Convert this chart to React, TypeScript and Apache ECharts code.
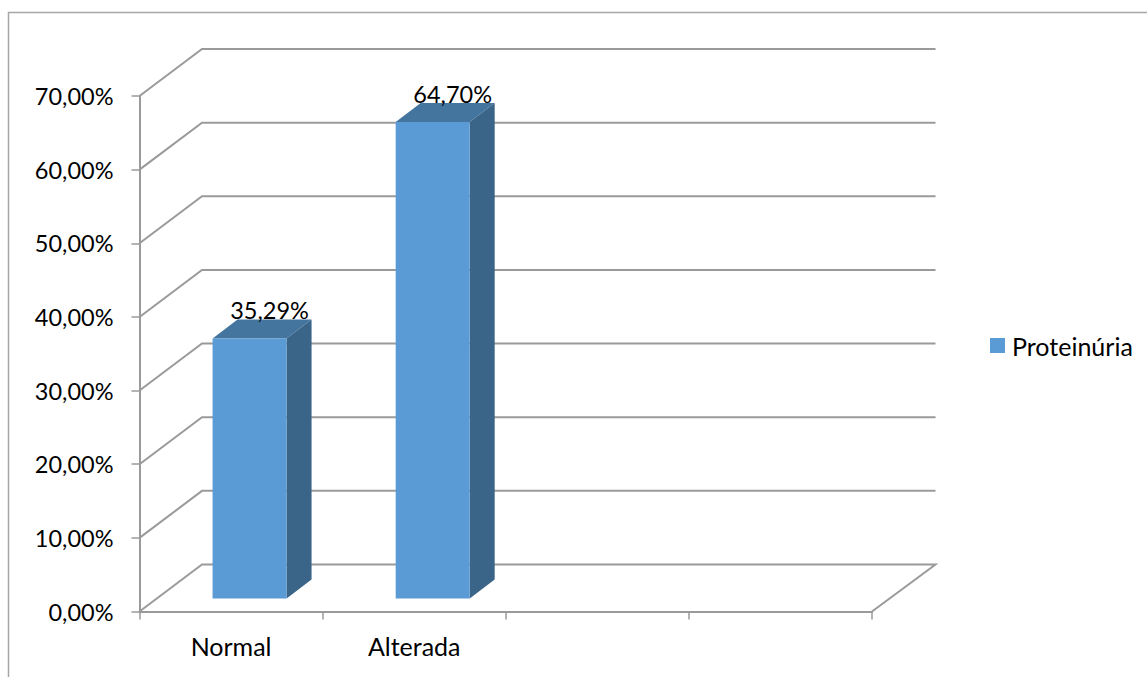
import React, { useEffect, useRef } from "react";
import * as echarts from "echarts";

const categories = ["Normal", "Alterada", "", ""];
const seriesName = "Proteinúria";
const values = [35.29, 64.7];
const valueLabels = ["35,29%", "64,70%"];
const yTicks = [0, 10, 20, 30, 40, 50, 60, 70];

const FONT = "Lato";
const NUM_SIZE = 23.5;
const WORD_SIZE = 25;
const LINE = "#9a9a9a";
const FRONT = "#5b9bd5";
const TOP = "#44759f";
const SIDE = "#3a6488";
const WALL_DX = 62.5;
const WALL_DY = 47;
const BAR_W = 74;
const BAR_DX = 25;
const BAR_DY = 19;
const BAR_SHIFT_X = 18.5;
const BAR_SHIFT_Y = 13;

const fmt = (v: number) => v.toFixed(2).replace(".", ",") + "%";

export default function App() {
  const ref = useRef<HTMLDivElement>(null);
  useEffect(() => {
    const chart = echarts.init(ref.current!, null, { renderer: "svg" });
    chart.setOption({
      animation: false,
      backgroundColor: "#ffffff",
      textStyle: { fontFamily: FONT },
      grid: { left: 139.5, right: 1147 - 872, top: 96, bottom: 677 - 611.5 },
      legend: {
        show: true,
        data: [{ name: seriesName, icon: "rect" }],
        left: 990,
        top: 333,
        padding: 0,
        itemWidth: 15,
        itemHeight: 15,
        textStyle: { fontFamily: FONT, fontSize: WORD_SIZE, color: "#000", padding: [0, 0, 6, 2] },
      },
      xAxis: {
        type: "category",
        data: categories,
        boundaryGap: true,
        axisLine: { show: true, lineStyle: { color: LINE, width: 2 } },
        axisTick: { show: true, length: 8, alignWithLabel: false, lineStyle: { color: LINE, width: 1.5 } },
        axisLabel: { show: true, interval: 0, margin: 22, fontFamily: FONT, fontSize: WORD_SIZE, color: "#000" },
        splitLine: { show: false },
      },
      yAxis: {
        type: "value",
        min: 0,
        max: 70,
        interval: 10,
        axisLine: { show: true, lineStyle: { color: LINE, width: 2 } },
        axisTick: { show: true, length: 8, lineStyle: { color: LINE, width: 1.5 } },
        axisLabel: { margin: 26, fontFamily: FONT, fontSize: NUM_SIZE, color: "#000", formatter: (v: number) => fmt(v) },
        splitLine: { show: false },
      },
      graphic: [
        {
          type: "polyline",
          silent: true,
          shape: { points: [[8.5, 677], [8.5, 12.5], [1147, 12.5]] },
          style: { stroke: "#a6a6a6", lineWidth: 1.5, fill: "none" },
        },
      ],
      series: [
        {
          name: "walls",
          type: "custom",
          silent: true,
          z: 1,
          data: yTicks.map((v) => [0, v]),
          encode: { x: 0, y: 1 },
          renderItem: (params: any, api: any) => {
            const cs = params.coordSys;
            const v = api.value(1);
            const y = api.coord([0, v])[1];
            const pts: number[][] = [
              [cs.x, y],
              [cs.x + WALL_DX, y - WALL_DY],
              [cs.x + cs.width + WALL_DX + 1, y - WALL_DY],
            ];
            if (v === 0) pts.push([cs.x + cs.width, y]);
            return {
              type: "polyline",
              shape: { points: pts },
              style: { stroke: LINE, lineWidth: 2, fill: "none" },
            };
          },
        },
        {
          name: seriesName,
          type: "custom",
          z: 2,
          itemStyle: { color: FRONT },
          data: values.map((v, i) => [i, v]),
          encode: { x: 0, y: 1 },
          renderItem: (params: any, api: any) => {
            const i = api.value(0);
            const v = api.value(1);
            const topC = api.coord([i, v]);
            const baseC = api.coord([i, 0]);
            const x0 = topC[0] + BAR_SHIFT_X - BAR_W / 2;
            const x1 = x0 + BAR_W;
            const yT = topC[1] - BAR_SHIFT_Y;
            const yB = baseC[1] - BAR_SHIFT_Y;
            return {
              type: "group",
              children: [
                {
                  type: "polygon",
                  shape: { points: [[x0, yT], [x1, yT], [x1 + BAR_DX, yT - BAR_DY], [x0 + BAR_DX, yT - BAR_DY]] },
                  style: { fill: TOP },
                },
                {
                  type: "polygon",
                  shape: { points: [[x1, yT], [x1 + BAR_DX, yT - BAR_DY], [x1 + BAR_DX, yB - BAR_DY], [x1, yB]] },
                  style: { fill: SIDE },
                },
                {
                  type: "rect",
                  shape: { x: x0, y: yT, width: BAR_W, height: yB - yT },
                  style: { fill: FRONT },
                },
                {
                  type: "text",
                  z2: 10,
                  style: {
                    text: valueLabels[i],
                    x: (x0 + x1) / 2 + 20,
                    y: yT - 28.5,
                    align: "center",
                    verticalAlign: "middle",
                    fontFamily: FONT,
                    fontSize: NUM_SIZE,
                    fill: "#000",
                  },
                },
              ],
            };
          },
        },
      ],
    });
    return () => chart.dispose();
  }, []);
  return (
    <div
      ref={ref}
      style={{ position: "absolute", left: 0, top: 0, width: 1147, height: 677 }}
    />
  );
}
